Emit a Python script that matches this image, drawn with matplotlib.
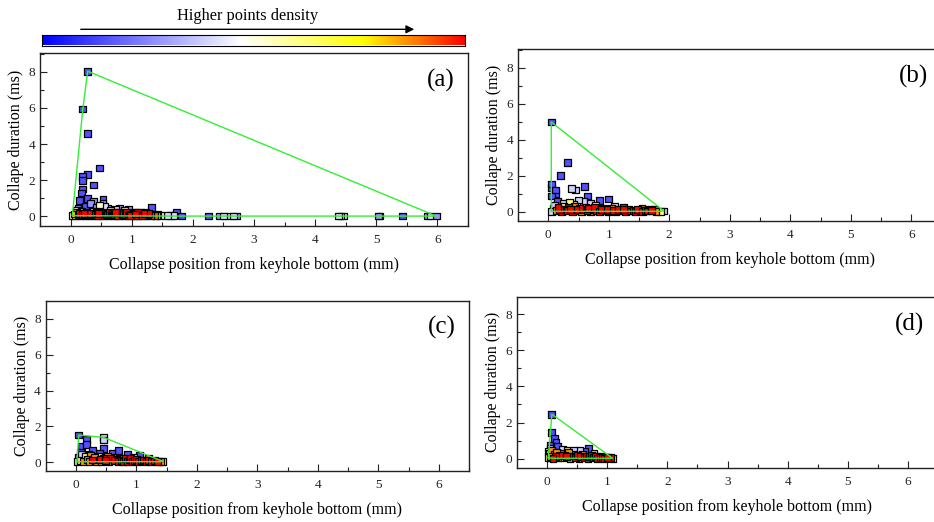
import numpy as np
import matplotlib
matplotlib.use("Agg")
import matplotlib.pyplot as plt
from matplotlib.colors import LinearSegmentedColormap
from matplotlib.ticker import MultipleLocator

plt.rcParams['font.family'] = ['Liberation Serif', 'DejaVu Serif']

# ---- data (collapse position mm, collapse duration ms) ----
xa = [0.28, 0.20, 0.28, 0.47, 0.28, 0.20, 0.20, 0.38, 0.20, 0.18, 0.28, 0.15, 0.53, 0.38,
      0.32, 0.53, 0.47, 1.32, 0.80, 0.73, 0.95, 1.73, 0.60, 0.55, 0.42, 0.25, 0.12, 0.10,
      0.30, 0.65, 0.88, 1.05, 1.15, 1.22, 0.70, 0.85,
      1.47, 1.58, 1.63, 1.69, 1.82, 2.25, 2.43, 2.50, 2.58, 2.66, 2.72, 4.38, 4.41, 4.46,
      5.03, 5.06, 5.43, 5.84, 5.88, 5.98,
      0.03, 0.06, 0.08, 0.10, 0.12, 0.14, 0.16, 0.18, 0.20, 0.22, 0.24, 0.26, 0.28, 0.30,
      0.32, 0.34, 0.36, 0.38, 0.40, 0.42, 0.44, 0.46, 0.48, 0.50, 0.52, 0.54, 0.56, 0.58,
      0.60, 0.62, 0.64, 0.66, 0.68, 0.70, 0.72, 0.74, 0.76, 0.78, 0.80, 0.82, 0.84, 0.86,
      0.88, 0.90, 0.92, 0.94, 0.96, 0.98, 1.00, 1.02, 1.04, 1.06, 1.08, 1.10, 1.12, 1.15,
      1.18, 1.20, 1.23, 1.26, 1.28, 1.31, 1.34, 1.37, 1.40, 1.43]
ya = [8.04, 5.94, 4.59, 2.67, 2.33, 2.18, 1.96, 1.72, 1.50, 1.28, 0.98, 0.87, 0.94, 0.80,
      0.70, 0.73, 0.62, 0.48, 0.44, 0.37, 0.37, 0.22, 0.45, 0.55, 0.50, 0.55, 0.42, 0.30,
      0.40, 0.30, 0.30, 0.22, 0.18, 0.20, 0.20, 0.15,
      0.05, 0.05, 0.05, 0.05, 0.00, 0.00, 0.00, 0.00, 0.00, 0.00, 0.00, 0.00, 0.00, 0.00,
      0.00, 0.00, 0.00, 0.00, 0.00, 0.00,
      0.05, 0.12, 0.02, 0.20, 0.06, 0.15, 0.02, 0.25, 0.08, 0.14, 0.03, 0.20, 0.10, 0.02,
      0.16, 0.07, 0.25, 0.03, 0.12, 0.20, 0.05, 0.15, 0.02, 0.22, 0.09, 0.03, 0.17, 0.06,
      0.12, 0.02, 0.20, 0.08, 0.14, 0.03, 0.10, 0.18, 0.05, 0.12, 0.02, 0.22, 0.08, 0.15,
      0.03, 0.10, 0.18, 0.05, 0.12, 0.02, 0.15, 0.07, 0.03, 0.12, 0.05, 0.18, 0.02, 0.10,
      0.05, 0.15, 0.02, 0.08, 0.13, 0.03, 0.10, 0.05, 0.02, 0.08]

xb = [0.05, 0.32, 0.20, 0.38, 0.45, 0.60, 0.05, 0.05, 0.12, 0.12, 0.05, 0.65, 1.00, 0.85,
      0.50, 0.58, 0.25, 0.35, 0.70, 0.15, 0.42, 0.78, 1.10, 1.25, 1.55, 1.91, 1.85, 1.75,
      1.68,
      0.05, 0.08, 0.10, 0.13, 0.16, 0.19, 0.22, 0.25, 0.28, 0.31, 0.34, 0.37, 0.40, 0.43,
      0.46, 0.49, 0.52, 0.55, 0.58, 0.61, 0.64, 0.67, 0.70, 0.73, 0.76, 0.79, 0.82, 0.85,
      0.88, 0.91, 0.94, 0.97, 1.00, 1.04, 1.08, 1.12, 1.16, 1.20, 1.24, 1.28, 1.32, 1.36,
      1.40, 1.44, 1.48, 1.52, 1.56, 1.60, 1.64, 1.70, 1.78]
yb = [4.98, 2.72, 2.02, 1.28, 1.20, 1.41, 1.54, 1.36, 1.20, 1.02, 0.87, 0.87, 0.70, 0.60,
      0.65, 0.55, 0.45, 0.50, 0.45, 0.55, 0.40, 0.35, 0.30, 0.25, 0.18, 0.04, 0.02, 0.10,
      0.15,
      0.02, 0.20, 0.35, 0.05, 0.25, 0.12, 0.03, 0.30, 0.15, 0.05, 0.22, 0.10, 0.02, 0.28,
      0.12, 0.05, 0.20, 0.02, 0.14, 0.25, 0.06, 0.18, 0.02, 0.12, 0.22, 0.05, 0.15, 0.02,
      0.10, 0.20, 0.04, 0.13, 0.02, 0.18, 0.08, 0.02, 0.14, 0.05, 0.10, 0.02, 0.12, 0.04,
      0.08, 0.02, 0.10, 0.05, 0.02, 0.08, 0.04, 0.06, 0.02]

xc = [0.05, 0.46, 0.46, 0.18, 0.18, 0.10, 0.46, 0.39, 0.70, 0.28, 0.60, 0.85, 1.05, 0.08,
      0.22, 0.95, 1.20, 1.30, 1.43, 1.40,
      0.02, 0.04, 0.07, 0.10, 0.13, 0.16, 0.19, 0.22, 0.25, 0.28, 0.31, 0.34, 0.37, 0.40,
      0.43, 0.46, 0.49, 0.52, 0.55, 0.58, 0.61, 0.64, 0.67, 0.70, 0.73, 0.76, 0.79, 0.82,
      0.85, 0.88, 0.91, 0.94, 0.97, 1.00, 1.04, 1.08, 1.12, 1.16, 1.20, 1.25, 1.30, 1.35]
yc = [1.51, 1.38, 1.23, 1.27, 1.00, 0.86, 0.76, 0.48, 0.65, 0.65, 0.50, 0.40, 0.35, 0.55,
      0.45, 0.25, 0.18, 0.12, 0.05, 0.02,
      0.02, 0.25, 0.10, 0.40, 0.05, 0.30, 0.15, 0.02, 0.35, 0.12, 0.25, 0.05, 0.30, 0.15,
      0.02, 0.22, 0.10, 0.30, 0.04, 0.18, 0.25, 0.08, 0.15, 0.02, 0.22, 0.10, 0.05, 0.18,
      0.02, 0.12, 0.20, 0.04, 0.10, 0.15, 0.02, 0.08, 0.12, 0.04, 0.08, 0.02, 0.06, 0.03]

xd = [0.08, 0.08, 0.12, 0.15, 0.18, 0.25, 0.33, 0.69, 0.44, 0.54, 0.63, 0.78, 0.05, 0.05,
      0.03, 0.90, 1.09, 1.05, 0.98,
      0.02, 0.04, 0.06, 0.08, 0.10, 0.12, 0.14, 0.16, 0.18, 0.20, 0.23, 0.26, 0.29, 0.32,
      0.35, 0.38, 0.41, 0.44, 0.47, 0.50, 0.53, 0.56, 0.59, 0.62, 0.65, 0.68, 0.71, 0.74,
      0.77, 0.80, 0.84, 0.88, 0.92, 0.96, 1.00]
yd = [2.46, 1.44, 1.13, 0.89, 0.70, 0.52, 0.43, 0.55, 0.48, 0.48, 0.38, 0.30, 0.75, 0.55,
      0.40, 0.15, 0.02, 0.05, 0.08,
      0.05, 0.30, 0.12, 0.45, 0.02, 0.25, 0.10, 0.35, 0.03, 0.18, 0.28, 0.05, 0.20, 0.10,
      0.32, 0.02, 0.15, 0.25, 0.06, 0.18, 0.02, 0.12, 0.22, 0.05, 0.15, 0.02, 0.10, 0.18,
      0.04, 0.12, 0.02, 0.08, 0.05, 0.02, 0.04]

panels = [(xa, ya, "(a)"), (xb, yb, "(b)"), (xc, yc, "(c)"), (xd, yd, "(d)")]

# axes boxes in pixels (left, top, width, height) and y-limits
boxes = [(40, 53, 428, 173), (518, 49, 423.5, 172), (45.5, 300.7, 423.5, 170.3), (517, 296.7, 421, 171.3)]
ylims = [(-0.55, 9.05), (-0.52, 9.04), (-0.5, 9.02), (-0.52, 8.97)]

W, H = 934, 522
cmap = LinearSegmentedColormap.from_list(
    "dens", [(0, "#0000ff"), (0.47, "#ffffff"), (0.76, "#ffff00"), (1, "#ff0000")])
hull_color = "#33ee33"


def density(x, y):
    x = np.asarray(x)
    y = np.asarray(y)
    d = ((x[:, None] - x[None, :]) / 0.11) ** 2 + ((y[:, None] - y[None, :]) / 0.15) ** 2
    n = (d < 1).sum(axis=1).astype(float)
    s = np.clip((n - 1) / (0.6 * (n.max() - 1)), 0, 1)
    return 0.15 + 0.85 * s


def hull(x, y):
    pts = sorted(set(zip(x, y)))

    def cross(o, a, b):
        return (a[0] - o[0]) * (b[1] - o[1]) - (a[1] - o[1]) * (b[0] - o[0])

    lower, upper = [], []
    for p in pts:
        while len(lower) >= 2 and cross(lower[-2], lower[-1], p) <= 0:
            lower.pop()
        lower.append(p)
    for p in reversed(pts):
        while len(upper) >= 2 and cross(upper[-2], upper[-1], p) <= 0:
            upper.pop()
        upper.append(p)
    h = lower[:-1] + upper[:-1]
    h.append(h[0])
    return [p[0] for p in h], [p[1] for p in h]


fig = plt.figure(figsize=(W / 100, H / 100), dpi=100)

for (x, y, tag), (l, t, w, h), yl in zip(panels, boxes, ylims):
    ax = fig.add_axes([l / W, 1 - (t + h) / H, w / W, h / H])
    c = density(x, y)
    order = np.argsort(c)
    hx, hy = hull(x, y)
    ax.plot(hx, hy, color=hull_color, lw=1.0, zorder=3)
    ax.scatter(np.asarray(x)[order], np.asarray(y)[order], c=c[order], cmap=cmap, vmin=0, vmax=1,
               marker='s', s=24, edgecolors='black', linewidths=0.9, zorder=2)
    ax.set_xlim(-0.5, 6.5)
    ax.set_ylim(*yl)
    ax.xaxis.set_major_locator(MultipleLocator(1))
    ax.xaxis.set_minor_locator(MultipleLocator(0.5))
    ax.yaxis.set_major_locator(MultipleLocator(2))
    ax.yaxis.set_minor_locator(MultipleLocator(1))
    ax.tick_params(which='both', direction='in', labelsize=9.5, colors='#222222')
    ax.tick_params(which='major', length=5, width=0.8)
    ax.tick_params(which='minor', length=3, width=0.8)
    ax.tick_params(axis='x', pad=6)
    for sp in ax.spines.values():
        sp.set_linewidth(1.0)
        sp.set_color('#222222')
    ax.set_xlabel("Collapse position from keyhole bottom (mm)", fontsize=11.5, labelpad=8)
    ax.set_ylabel("Collape duration (ms)", fontsize=11.5, labelpad=3)
    ax.text(0.968, 0.84, tag, transform=ax.transAxes, ha='right', va='center', fontsize=18)

# density colour bar on top
cax = fig.add_axes([42 / W, 1 - 45.5 / H, 423 / W, 10.5 / H])
cax.imshow(np.linspace(0, 1, 256)[None, :], aspect='auto', cmap=cmap, extent=[0, 1, 0, 1])
cax.set_xticks([])
cax.set_yticks([])
for sp in cax.spines.values():
    sp.set_linewidth(0.8)
fig.text(248 / W, 1 - 16.5 / H, "Higher points density", ha='center', va='center', fontsize=11.8)
fig.add_artist(matplotlib.patches.FancyArrowPatch(
    (78 / W, 1 - 29.3 / H), (417 / W, 1 - 29.3 / H), transform=fig.transFigure,
    arrowstyle='-|>', mutation_scale=12, lw=1.0, color='black'))

fig.savefig("out.png", dpi=100)
